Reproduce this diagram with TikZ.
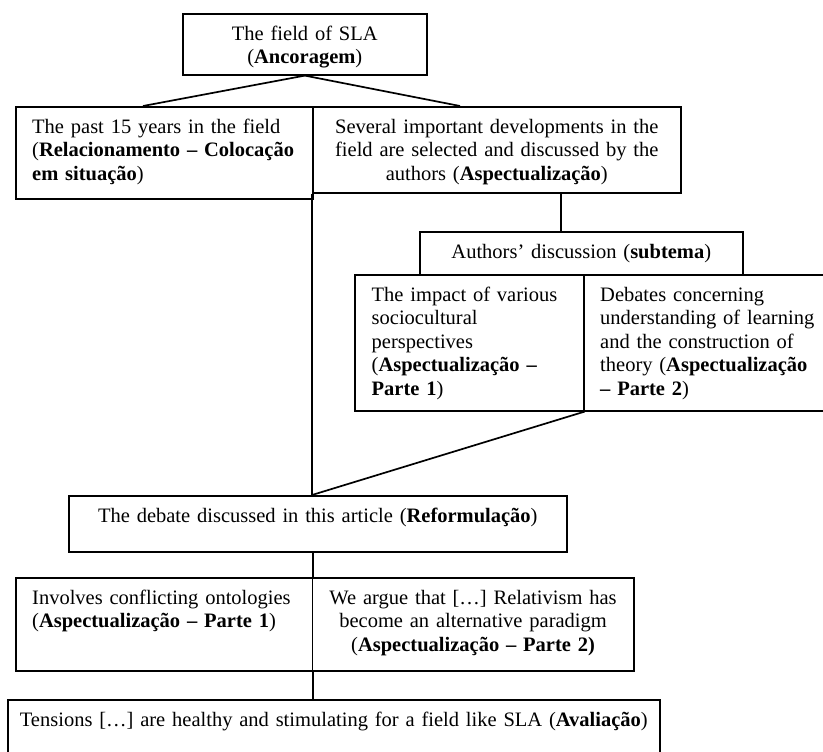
\documentclass[tikz,border=0pt]{standalone}
\usepackage{fontspec}
\setmainfont{Liberation Serif}
\usetikzlibrary{calc}
\begin{document}
\begin{tikzpicture}[x=1pt,y=-1pt,
  box/.style={draw, line width=1.6pt, rectangle, inner sep=0pt, anchor=north west},
  txt/.style={inner sep=0pt, font=\fontsize{20.5}{23.5}\selectfont,
    execute at begin node={\rule{0pt}{16.45pt}}},
  ctxt/.style={txt, align=center, anchor=north},
  ltxt/.style={txt, align=left, anchor=north west},
  conn/.style={line width=1.7pt}]
\clip (0,0) rectangle (823,752);
\fill[white] (0,0) rectangle (823,752);
% boxes
\node[box, minimum width=244pt, minimum height=61pt] (top) at (182,13) {};
\node[box, minimum width=297pt, minimum height=92pt] (past) at (15,106) {};
\node[box, minimum width=368pt, minimum height=86pt] (several) at (312,106) {};
\node[box, minimum width=323pt, minimum height=43pt] (authors) at (419,231) {};
\node[box, minimum width=229pt, minimum height=136pt] (impact) at (354,274) {};
\node[box, minimum width=260pt, minimum height=136pt] (debates) at (583,274) {};
\node[box, minimum width=498pt, minimum height=56pt] (debate) at (68,495) {};
\node[box, minimum width=296.5pt, minimum height=93pt] (involves) at (15,577) {};
\node[box, minimum width=321.5pt, minimum height=93pt] (argue) at (311.5,577) {};
\node[box, minimum width=652pt, minimum height=70pt] (tensions) at (7,699) {};
% texts
\node[ctxt, text width=300pt] (topT) at ($(top.north)+(0,10.5)$)
  {The field of SLA\\(\textbf{Ancoragem})};
\node[ltxt, text width=290pt] (pastT) at ($(past.north west)+(17,10.5)$)
  {The past 15 years in the field\\(\textbf{Relacionamento – Colocação}\\\textbf{em situação})};
\node[ctxt, text width=400pt] (severalT) at ($(several.north)+(0,10.5)$)
  {Several important developments in the\\field are selected and discussed by the\\authors (\textbf{Aspectualização})};
\node[ctxt, text width=340pt] (authorsT) at ($(authors.north)+(0,10.5)$)
  {Authors’ discussion (\textbf{subtema})};
\node[ltxt, text width=220pt] (impactT) at ($(impact.north west)+(17.5,10.5)$)
  {The impact of various\\sociocultural\\perspectives\\(\textbf{Aspectualização –}\\\textbf{Parte 1})};
\node[ltxt, text width=240pt] (debatesT) at ($(debates.north west)+(17,10.5)$)
  {Debates concerning\\understanding of learning\\and the construction of\\theory (\textbf{Aspectualização}\\\textbf{– Parte 2})};
\node[ctxt, text width=520pt] (debateT) at ($(debate.north)+(0,10.5)$)
  {The debate discussed in this article (\textbf{Reformulação})};
\node[ltxt, text width=290pt] (involvesT) at ($(involves.north west)+(17,10.5)$)
  {Involves conflicting ontologies\\(\textbf{Aspectualização – Parte 1})};
\node[ctxt, text width=340pt] (argueT) at ($(argue.north)+(0,10.5)$)
  {We argue that […] Relativism has\\become an alternative paradigm\\(\textbf{Aspectualização – Parte 2)}};
\node[ctxt, text width=680pt] (tensionsT) at ($(tensions.north)+(0,10.5)$)
  {Tensions […] are healthy and stimulating for a field like SLA (\textbf{Avaliação})};
% connectors
\coordinate (pastIn) at (143,106);
\coordinate (sevIn) at (460,106);
\coordinate (sevOut) at (561,192);
\coordinate (join) at (several.south west |- debate.north);
\draw[conn] (pastIn) -- (top.south) -- (sevIn);
\draw[conn] (sevOut) -- (sevOut |- authors.north);
\draw[conn] (several.south west) -- (join);
\draw[conn] (impact.south east) -- (join);
\draw[conn] (involves.north east |- debate.south) -- (involves.north east);
\draw[conn] (involves.south east) -- (involves.south east |- tensions.north);
\end{tikzpicture}
\end{document}
